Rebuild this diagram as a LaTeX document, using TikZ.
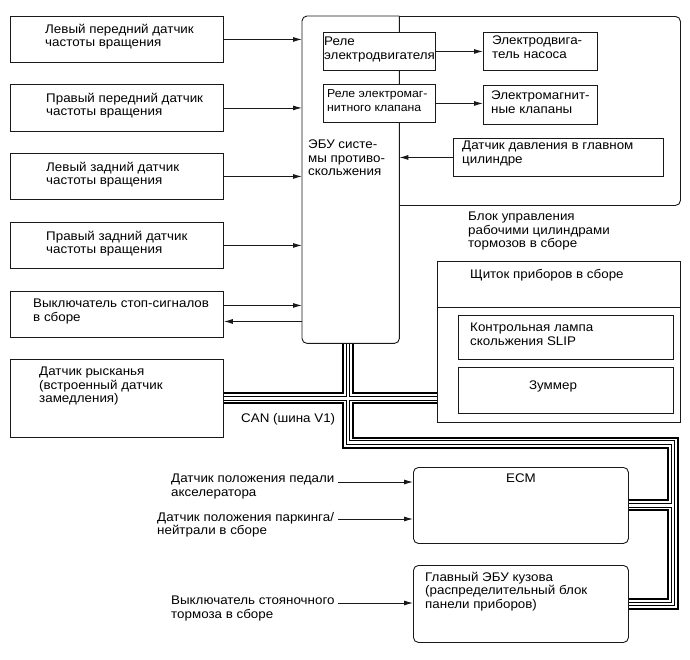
\documentclass[tikz,border=0pt]{standalone}
\usepackage{fontspec}
\setmainfont{Liberation Sans}[FakeStretch=1.07]
\usetikzlibrary{arrows.meta}
\usetikzlibrary{backgrounds}

\tikzset{
  box/.style={draw=black!90, line width=0.9pt, anchor=north west, inner sep=0pt},
  rbox/.style={box, rounded corners=5pt},
  txt/.style={anchor=north west, align=left, inner sep=0pt},
  arr/.style={draw=black!90, line width=0.9pt, -{Latex[length=9pt,width=5pt]}},
}

\begin{document}
\begin{tikzpicture}[x=1pt,y=-1pt, font=\fontsize{12.5}{13.5}\selectfont]
  \useasboundingbox (0,0) rectangle (690,659);

  % left sensors
  \node[box, minimum width=213pt, minimum height=46pt] (s1) at (10,16) {};
  \node[box, minimum width=213pt, minimum height=47pt] (s2) at (10,84) {};
  \node[box, minimum width=213pt, minimum height=46pt] (s3) at (10,153) {};
  \node[box, minimum width=213pt, minimum height=46pt] (s4) at (10,222) {};
  \node[box, minimum width=213pt, minimum height=46pt] (stop) at (10,291) {};
  \node[box, minimum width=213pt, minimum height=78pt] (yaw) at (10,359) {};

  \node[txt] (s1-t) at (45,24) {Левый передний датчик\\частоты вращения};
  \node[txt] (s2-t) at (46,93) {Правый передний датчик\\частоты вращения};
  \node[txt] (s3-t) at (46,162) {Левый задний датчик\\частоты вращения};
  \node[txt] (s4-t) at (46,231) {Правый задний датчик\\частоты вращения};
  \node[txt] (stop-t) at (33,299) {Выключатель стоп-сигналов\\в сборе};
  \node[txt] (yaw-t) at (39,367) {Датчик рысканья\\(встроенный датчик\\замедления)};

  % actuator block and ECU
  \node[rbox, minimum width=378pt, minimum height=189pt] (act) at (302,16) {};
  \node[inner sep=0pt, anchor=north west, minimum width=97pt, minimum height=327pt] (ecu) at (302,16) {};
  \draw[draw=black!90, line width=0.9pt, fill=white, rounded corners=5pt]
    (ecu.north east) -- (ecu.north west) -- (ecu.south west) -- (ecu.south east) -- (ecu.north east);
  \node[txt] (ecu-t) at (308,140) {ЭБУ систе-\\мы противо-\\скольжения};

  \node[box, fill=white, minimum width=112pt, minimum height=38pt] (rel1) at (323,32) {};
  \node[box, fill=white, minimum width=112pt, minimum height=38pt] (rel2) at (323,84) {};
  \node[box, minimum width=114pt, minimum height=38pt] (pump) at (483,32) {};
  \node[box, minimum width=114pt, minimum height=39pt] (valve) at (483,85) {};
  \node[box, minimum width=210pt, minimum height=38pt] (mcp) at (453,138) {};

  \node[txt] (rel1-t) at (324,37) {Реле\\электродвигателя};
  \node[txt, font=\fontsize{11.5}{14.5}\selectfont] (rel2-t) at (327,89) {Реле электромаг-\\нитного клапана};
  \node[txt] (pump-t) at (492,36) {Электродвига-\\тель насоса};
  \node[txt] (valve-t) at (491,91) {Электромагнит-\\ные клапаны};
  \node[txt] (mcp-t) at (462,141) {Датчик давления в главном\\цилиндре};
  \node[txt] (act-t) at (468,212) {Блок управления\\рабочими цилиндрами\\тормозов в сборе};

  % combination meter
  \node[box, minimum width=243pt, minimum height=161pt] (clu) at (437,261) {};
  \draw[draw=black!90, line width=0.9pt] (clu.north west) ++(0,46) -- ++(243,0);
  \node[box, minimum width=215pt, minimum height=44pt] (slip) at (458,315) {};
  \node[box, minimum width=215pt, minimum height=46pt] (buz) at (458,367) {};
  \node[txt] (clu-t) at (470,269) {Щиток приборов в сборе};
  \node[txt] (slip-t) at (470,323) {Контрольная лампа\\скольжения SLIP};
  \node[txt, anchor=north] (buz-t) at (553,381) {Зуммер};

  % ECM and main body ECU
  \node[rbox, minimum width=215pt, minimum height=76pt] (ecm) at (413,467) {};
  \node[rbox, minimum width=215pt, minimum height=77pt] (body) at (413,565) {};
  \node[txt, anchor=north] (ecm-t) at (521,474) {ECM};
  \node[txt] (body-t) at (425,572) {Главный ЭБУ кузова\\(распределительный блок\\панели приборов)};

  \node[txt] (app-t) at (171,474) {Датчик положения педали\\акселератора};
  \node[txt] (pnp-t) at (157,512) {Датчик положения паркинга/\\нейтрали в сборе};
  \node[txt] (pkb-t) at (171,596) {Выключатель стояночного\\тормоза в сборе};
  \coordinate (app-o) at (338,482);
  \coordinate (pnp-o) at (338,519);
  \coordinate (pkb-o) at (338,603);

  \node[txt] (can-t) at (241,413) {CAN (шина V1)};

  % arrows
  \draw[arr] (s1.east) -- (s1.east -| ecu.west);
  \draw[arr] (s2.east) -- (s2.east -| ecu.west);
  \draw[arr] (s3.east) -- (s3.east -| ecu.west);
  \draw[arr] (s4.east) -- (s4.east -| ecu.west);
  \draw[arr] ([yshift=9pt]stop.east) -- ([yshift=9pt]stop.east -| ecu.west);
  \draw[arr] ([yshift=-7pt]stop.east -| ecu.west) -- ([yshift=-7pt]stop.east);
  \draw[arr] (rel1.east) -- (rel1.east -| pump.west);
  \draw[arr] (rel2.east) -- (rel2.east -| valve.west);
  \draw[arr] (mcp.west) -- (mcp.west -| ecu.east);
  \draw[arr] (app-o) -- (app-o -| ecm.west);
  \draw[arr] (pnp-o) -- (pnp-o -| ecm.west);
  \draw[arr] (pkb-o) -- (pkb-o -| body.west);

  % CAN bus
  \coordinate (canx) at (348,398);
  \coordinate (canc) at (348,442.5);
  \coordinate (canr) at (673,442.5);
  \begin{scope}[on background layer]
    \foreach \w/\c in {12/black, 8/white, 4.5/black, 2.5/white}
      \draw[line width=\w pt, \c, line join=miter]
        (ecu.south -| canx) -- (canc) -- (canr) -- (canr |- body.east) -- (body.east)
        (yaw.east) -- (yaw.east -| clu.west)
        (ecm.east) -- (ecm.east -| canr);
  \end{scope}
\end{tikzpicture}
\end{document}
